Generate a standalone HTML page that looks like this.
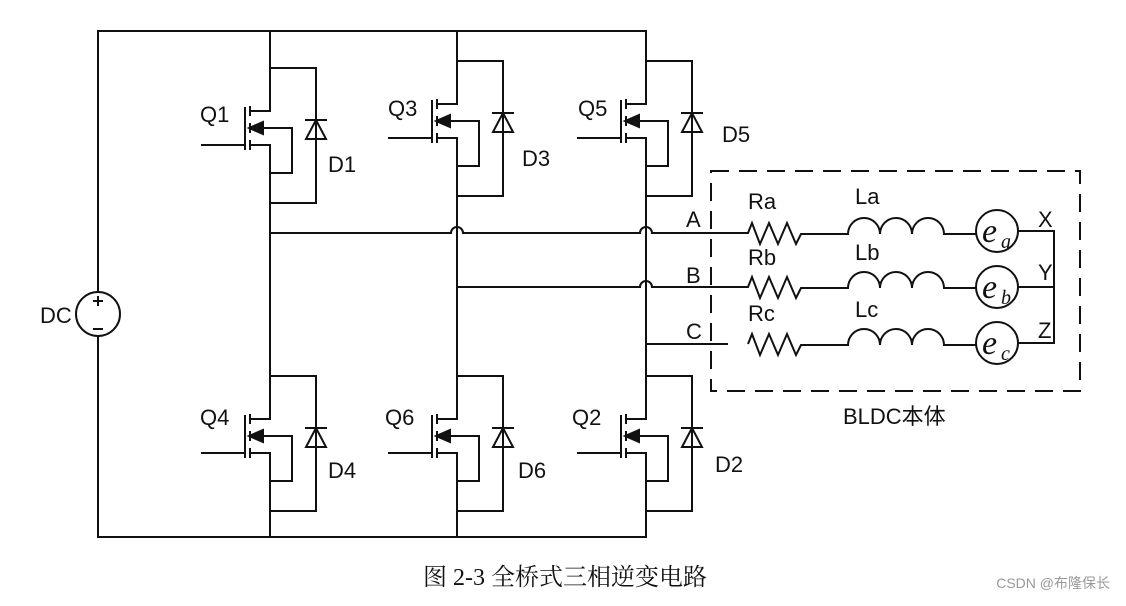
<!DOCTYPE html>
<html><head><meta charset="utf-8"><style>
body{margin:0;background:#fff;width:1126px;height:601px;overflow:hidden}
svg text{font-family:"Liberation Sans","Noto Sans CJK SC",sans-serif;font-size:22px;fill:#111}
</style></head><body>
<svg width="1126" height="601" viewBox="0 0 1126 601" xmlns="http://www.w3.org/2000/svg">
<defs>
<g id="m" fill="none" stroke="#111" stroke-width="2">
<path d="M0,0 H46 V135 H0"/>
<path d="M0,0 V43 H-20 M-20,38 V48 M-20,55 V65 M-20,72 V82 M-25,39 V82 M-69,77 H-25 M-20,77 H0 V135 M-20,60 H22 V105 H0"/>
<path d="M-21,60 L-7,54 L-7,66 Z" fill="#111"/>
<path d="M35,52 H57 M46,52 L36,71 H56 Z"/>
</g>
</defs>
<g fill="none" stroke="#111" stroke-width="2">
<path d="M270,31 H98 V537 H270"/>
<path d="M270,31 H646 V61 M270,31 V68 M270,203 V376 M270,511 V537 H646 V511 M457,31 V61 M457,196 V376 M457,511 V537 M646,196 V376"/>
<path d="M270,233 H451 A6,6 0 0 1 463,233 H640 A6,6 0 0 1 652,233 H715"/>
<path d="M457,287 H640 A6,6 0 0 1 652,287 H715"/>
<path d="M646,344 H728"/>
<circle cx="98" cy="314" r="22" fill="#fff"/>
<path d="M93,301 H103 M98,296 V306 M93,329 H103"/>
<rect x="711" y="171" width="369" height="220" stroke-dasharray="18,10"/>
<path d="M715,233 H748 l4,-10 l8,21 l9,-21 l9,21 l9,-21 l9,21 l5,-10 H848 a16,16 0 0 1 32,0 a16,16 0 0 1 32,0 a16,16 0 0 1 32,0 H976"/>
<path d="M715,287 H748 l4,-10 l8,21 l9,-21 l9,21 l9,-21 l9,21 l5,-10 H848 a16,16 0 0 1 32,0 a16,16 0 0 1 32,0 a16,16 0 0 1 32,0 H976"/>
<path d="M748,344 l4,-10 l8,21 l9,-21 l9,21 l9,-21 l9,21 l5,-10 H848 a16,16 0 0 1 32,0 a16,16 0 0 1 32,0 a16,16 0 0 1 32,0 H976"/>
<circle cx="997" cy="231" r="21"/><circle cx="997" cy="287" r="21"/><circle cx="997" cy="343" r="21"/>
<path d="M1018,231 H1054 V343 H1018 M1018,287 H1054"/>
</g>
<use href="#m" x="270" y="68"/><use href="#m" x="457" y="61"/><use href="#m" x="646" y="61"/>
<use href="#m" x="270" y="376"/><use href="#m" x="457" y="376"/><use href="#m" x="646" y="376"/>
<text x="200" y="122">Q1</text><text x="388" y="116">Q3</text><text x="578" y="116">Q5</text>
<text x="328" y="172">D1</text><text x="522" y="166">D3</text><text x="722" y="142">D5</text>
<text x="200" y="425">Q4</text><text x="385" y="425">Q6</text><text x="572" y="425">Q2</text>
<text x="328" y="478">D4</text><text x="518" y="478">D6</text><text x="715" y="472">D2</text>
<text x="40" y="323">DC</text>
<text x="686" y="227">A</text><text x="686" y="283">B</text><text x="686" y="339">C</text>
<text x="748" y="209">Ra</text><text x="748" y="265">Rb</text><text x="748" y="321">Rc</text>
<text x="855" y="204">La</text><text x="855" y="260">Lb</text><text x="855" y="317">Lc</text>
<text x="1038" y="227">X</text><text x="1038" y="280">Y</text><text x="1038" y="338">Z</text>
<g style="font-family:'Liberation Serif',serif;font-style:italic">
<text x="982" y="242" style="font-family:'Liberation Serif',serif;font-size:34px">e</text><text x="1001" y="248" style="font-family:'Liberation Serif',serif;font-size:20px">a</text>
<text x="982" y="298" style="font-family:'Liberation Serif',serif;font-size:34px">e</text><text x="1001" y="304" style="font-family:'Liberation Serif',serif;font-size:20px">b</text>
<text x="982" y="354" style="font-family:'Liberation Serif',serif;font-size:34px">e</text><text x="1001" y="360" style="font-family:'Liberation Serif',serif;font-size:20px">c</text>
</g>
<text x="843" y="424">BLDC本体</text>
<text x="565" y="585" text-anchor="middle" style="font-family:'Liberation Serif','Noto Serif CJK SC',serif;font-size:24px">图 2-3 全桥式三相逆变电路</text>
<text x="1110" y="588" text-anchor="end" style="font-size:14px;fill:#999">CSDN @布隆保长</text>
</svg>
</body></html>
